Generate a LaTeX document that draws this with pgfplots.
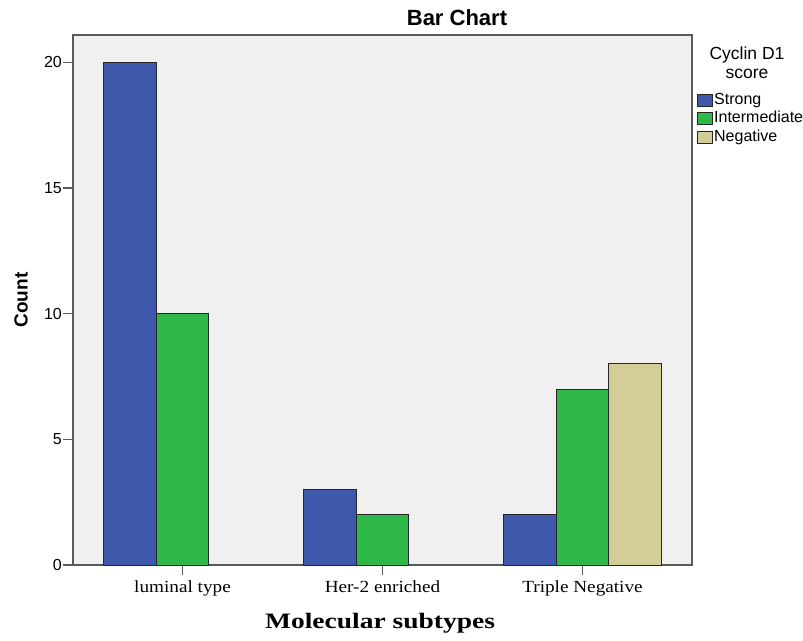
\documentclass[border=0pt]{standalone}
\usepackage{fontspec}
\setmainfont{Liberation Sans}
\newfontfamily\sansf{Liberation Sans}
\newfontfamily\serift[FakeStretch=1.13]{Liberation Serif}
\newfontfamily\serifl[FakeStretch=1.25]{Liberation Serif}
\usepackage{pgfplots}
\pgfplotsset{compat=1.18}
\definecolor{cstrong}{HTML}{3E58AC}
\definecolor{cinter}{HTML}{2EB848}
\definecolor{cneg}{HTML}{D3CE97}
\definecolor{bgc}{HTML}{F0F0F0}
\definecolor{axc}{HTML}{5A5A5A}
\begin{document}
\begin{tikzpicture}[x=1pt,y=1pt]
\begin{axis}[
  at={(0pt,0pt)}, anchor=south west,
  scale only axis, width=619pt, height=530pt,
  xmin=-0.5475, xmax=2.5475, ymin=0, ymax=21.09,
  axis background/.style={fill=bgc},
  axis line style={draw=axc, line width=1.3pt},
  ybar, bar width=0.2625,
  xtick={0,1,2}, xticklabels={luminal type, Her-2 enriched, Triple Negative},
  ytick={0,5,10,15,20},
  xtick pos=bottom, ytick pos=left,
  tick align=outside, major tick length=10pt,
  tick style={draw=axc, line width=1.3pt},
  /pgf/number format/assume math mode=true,
  yticklabel style={font=\fontsize{16}{16}\selectfont\sansf, inner sep=1pt},
  xticklabel style={font=\fontsize{17}{17}\selectfont\serift, anchor=base, yshift=-17pt},
  legend style={draw=none, fill=none, at={(1.0032,0.896)}, anchor=north west,
    font=\fontsize{16}{16}\selectfont\sansf,
    nodes={inner sep=1pt, text height=11pt, text depth=3pt},
    row sep=2.5pt, cells={anchor=west}},
  legend image code/.code={\draw[#1, draw=black!85, line width=1pt] (0pt,-6pt) rectangle (15pt,6pt);},
]
\addplot[fill=cstrong, draw=black!85, line width=1pt, bar shift=-0.2625] coordinates {(0,20) (1,3) (2,2)};
\addlegendentry{Strong}
\addplot[fill=cinter, draw=black!85, line width=1pt, bar shift=0] coordinates {(0,10) (1,2) (2,7)};
\addlegendentry{Intermediate}
\addplot[fill=cneg, draw=black!85, line width=1pt, bar shift=0.2625] coordinates {(2,8)};
\addlegendentry{Negative}
\end{axis}
\node[anchor=base, font=\fontsize{22}{22}\selectfont\sansf\bfseries] at (384,539) {Bar Chart};
\node[anchor=base, font=\fontsize{17.5}{17.5}\selectfont\sansf] at (674,505) {Cyclin D1};
\node[anchor=base, font=\fontsize{17.5}{17.5}\selectfont\sansf] at (674,486) {score};
\node[rotate=90, font=\fontsize{19}{19}\selectfont\sansf\bfseries] at (-52,265) {Count};
\node[anchor=base, font=\fontsize{22}{22}\selectfont\serifl\bfseries] at (307,-63) {Molecular subtypes};
\pgfresetboundingbox
\useasboundingbox (-73,-75) rectangle (730,565);
\end{tikzpicture}
\end{document}
